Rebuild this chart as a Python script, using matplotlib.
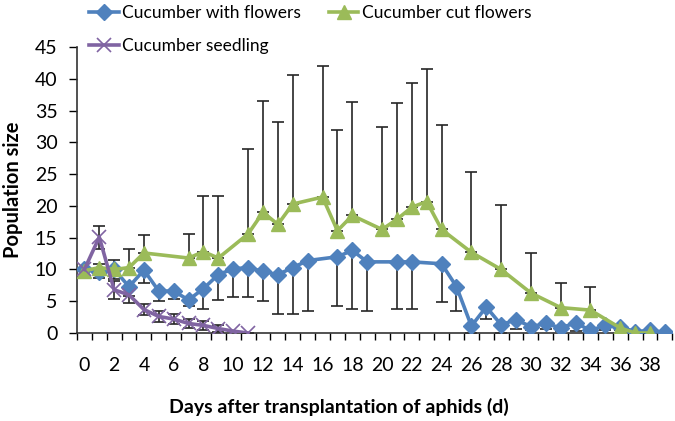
import numpy as np
import matplotlib.pyplot as plt

plt.rcParams['font.family'] = ['Lato', 'DejaVu Sans']

# Cucumber with flowers (minus error bars)
days_flw = [0, 1, 2, 3, 4, 5, 6, 7, 8, 9, 10, 11, 12, 13, 14, 15, 17, 18, 19, 21, 22,
            24, 25, 26, 27, 28, 29, 30, 31, 32, 33, 34, 35, 36, 37, 38, 39]
pop_flw = [10, 9.6, 10, 7.3, 9.9, 6.6, 6.6, 5.2, 7.0, 9.2, 10.1, 10.3, 9.7, 9.2, 10.3, 11.4,
           12.0, 13.0, 11.2, 11.2, 11.2, 10.9, 7.3, 1.1, 4.1, 1.3, 2.1, 1.0, 1.5, 0.8, 1.6,
           0.4, 1.2, 1.0, 0.2, 0.4, 0.1]
err_flw = [0, 1.0, 1.5, 1.5, 2.0, 1.5, 1.2, 1.0, 3.2, 4.0, 4.4, 4.6, 4.6, 6.2, 7.3, 7.9,
           7.7, 9.2, 7.8, 7.4, 7.4, 6.0, 3.9, 1.1, 1.9, 1.3, 1.5, 0.5, 0.8, 0.5, 1.3,
           0.3, 0.8, 0.5, 0, 0.2, 0]

# Cucumber cut flowers (plus error bars)
days_cut = [0, 1, 2, 3, 4, 7, 8, 9, 11, 12, 13, 14, 16, 17, 18, 20, 21, 22, 23, 24,
            26, 28, 30, 32, 34, 36, 37, 38]
pop_cut = [9.8, 10.3, 10.0, 10.3, 12.6, 11.8, 12.8, 11.8, 15.6, 19.0, 17.1, 20.3, 21.4,
           16.1, 18.5, 16.3, 17.9, 19.8, 20.7, 16.3, 12.7, 10.0, 6.3, 4.0, 3.6, 0.8, 0, 0]
err_cut = [0, 0.5, 1.5, 2.9, 2.8, 3.8, 8.8, 9.8, 13.3, 17.6, 16.1, 20.3, 20.6, 15.8,
           17.8, 16.1, 18.3, 19.6, 20.9, 16.5, 12.6, 10.1, 6.3, 3.9, 3.7, 0, 0, 0]

# Cucumber seedling (symmetric error bars)
days_sdl = [0, 1, 2, 3, 4, 5, 6, 7, 8, 9, 10, 11]
pop_sdl = [10, 15.1, 6.8, 6.0, 3.7, 2.6, 2.2, 1.5, 1.2, 0.7, 0.3, 0]
err_sdl = [0, 1.8, 1.4, 1.2, 0.9, 0.9, 0.8, 0.7, 0.7, 0.5, 0, 0]

c_flw, c_cut, c_sdl = '#4F81BD', '#9BBB59', '#8064A2'
ecol = '#262626'

fig = plt.figure(figsize=(6.75, 4.21), dpi=100)
ax = fig.add_axes([0.114, 0.209, 0.882, 0.679])

ax.errorbar(days_flw, pop_flw, yerr=[err_flw, np.zeros(len(err_flw))], fmt='none',
            ecolor=ecol, elinewidth=1.2, capsize=4, capthick=1.2, zorder=1)
ax.errorbar(days_cut, pop_cut, yerr=[np.zeros(len(err_cut)), err_cut], fmt='none',
            ecolor=ecol, elinewidth=1.2, capsize=4, capthick=1.2, zorder=1)
ax.errorbar(days_sdl, pop_sdl, yerr=err_sdl, fmt='none', ecolor=ecol,
            elinewidth=1.2, capsize=4, capthick=1.2, zorder=1)

l1, = ax.plot(days_flw, pop_flw, color=c_flw, lw=2.6, marker='D', ms=8,
              label='Cucumber with flowers', zorder=3)
l2, = ax.plot(days_cut, pop_cut, color=c_cut, lw=2.6, marker='^', ms=10.5,
              label='Cucumber cut flowers', zorder=3)
l3, = ax.plot(days_sdl, pop_sdl, color=c_sdl, lw=2.6, marker='x', ms=10, mew=1.2,
              label='Cucumber seedling', zorder=4)

ax.set_xlim(-0.5, 39.5)
ax.set_ylim(0, 45)
ax.set_yticks(range(0, 46, 5))
ax.set_xticks(range(0, 39, 2))
ax.set_xticks(np.arange(-0.5, 40, 1), minor=True)
ax.tick_params(axis='x', which='major', length=0, pad=17, labelsize=14)
ax.tick_params(axis='x', which='minor', length=5, direction='out', width=1)
ax.tick_params(axis='y', length=6, direction='out', width=1, labelsize=14, pad=8)

for s in ['top', 'right']:
    ax.spines[s].set_visible(False)
for s in ['left', 'bottom']:
    ax.spines[s].set_color('#333333')
    ax.spines[s].set_linewidth(1.2)

ax.set_ylabel('Population size', fontsize=14.5, fontweight='bold')
ax.yaxis.set_label_coords(-0.09, 0.5)
ax.set_xlabel('Days after transplantation of aphids (d)', fontsize=14,
              fontweight='bold')
ax.xaxis.set_label_coords(0.44, -0.228)

fig.legend([l1, l3, l2], [l1.get_label(), l3.get_label(), l2.get_label()],
           loc='upper left', bbox_to_anchor=(0.122, 1.005), ncol=2, frameon=False,
           fontsize=12.5, handlelength=1.7, handletextpad=0.2, columnspacing=1.6,
           labelspacing=1.0, borderaxespad=0)

fig.savefig('out.png', dpi=100)
